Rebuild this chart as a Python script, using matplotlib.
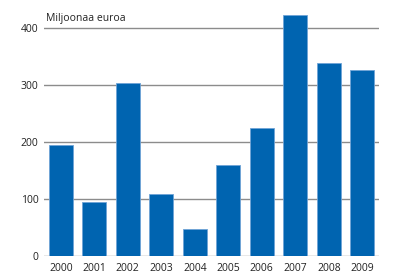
import numpy as np
from matplotlib import pyplot as plt

plt.rcParams['font.family'] = ['Open Sans', 'DejaVu Sans']

years = ['2000', '2001', '2002', '2003', '2004', '2005', '2006', '2007', '2008', '2009']
values = [195, 94, 304, 109, 47, 159, 225, 423, 339, 327]

fig = plt.figure(figsize=(4, 2.79), dpi=100)
ax = fig.add_axes([0.11, 0.0824, 0.8375, 0.879])

x = np.arange(len(years))
ax.bar(x, values, width=0.72, color='#0064b0', edgecolor='#6fa3d6', linewidth=0.6, zorder=3)

ax.set_xlim(-0.5, 9.5)
ax.set_ylim(0, 430)
ax.set_yticks([0, 100, 200, 300, 400])
for v in [0, 100, 200, 300, 400]:
    ax.axhline(v, color='#8c8c8c', linewidth=1.0, zorder=1)
for s in ax.spines.values():
    s.set_visible(False)
ax.set_xticks(x)
ax.set_xticklabels(years)
ax.tick_params(length=0, labelsize=7.5, colors='#222222')
ax.tick_params(axis='x', pad=5)
ax.tick_params(axis='y', pad=4)

fig.text(0.115, 0.932, 'Miljoonaa euroa', fontsize=7.5, color='#222222', va='center')

plt.savefig('out.png', dpi=100)
